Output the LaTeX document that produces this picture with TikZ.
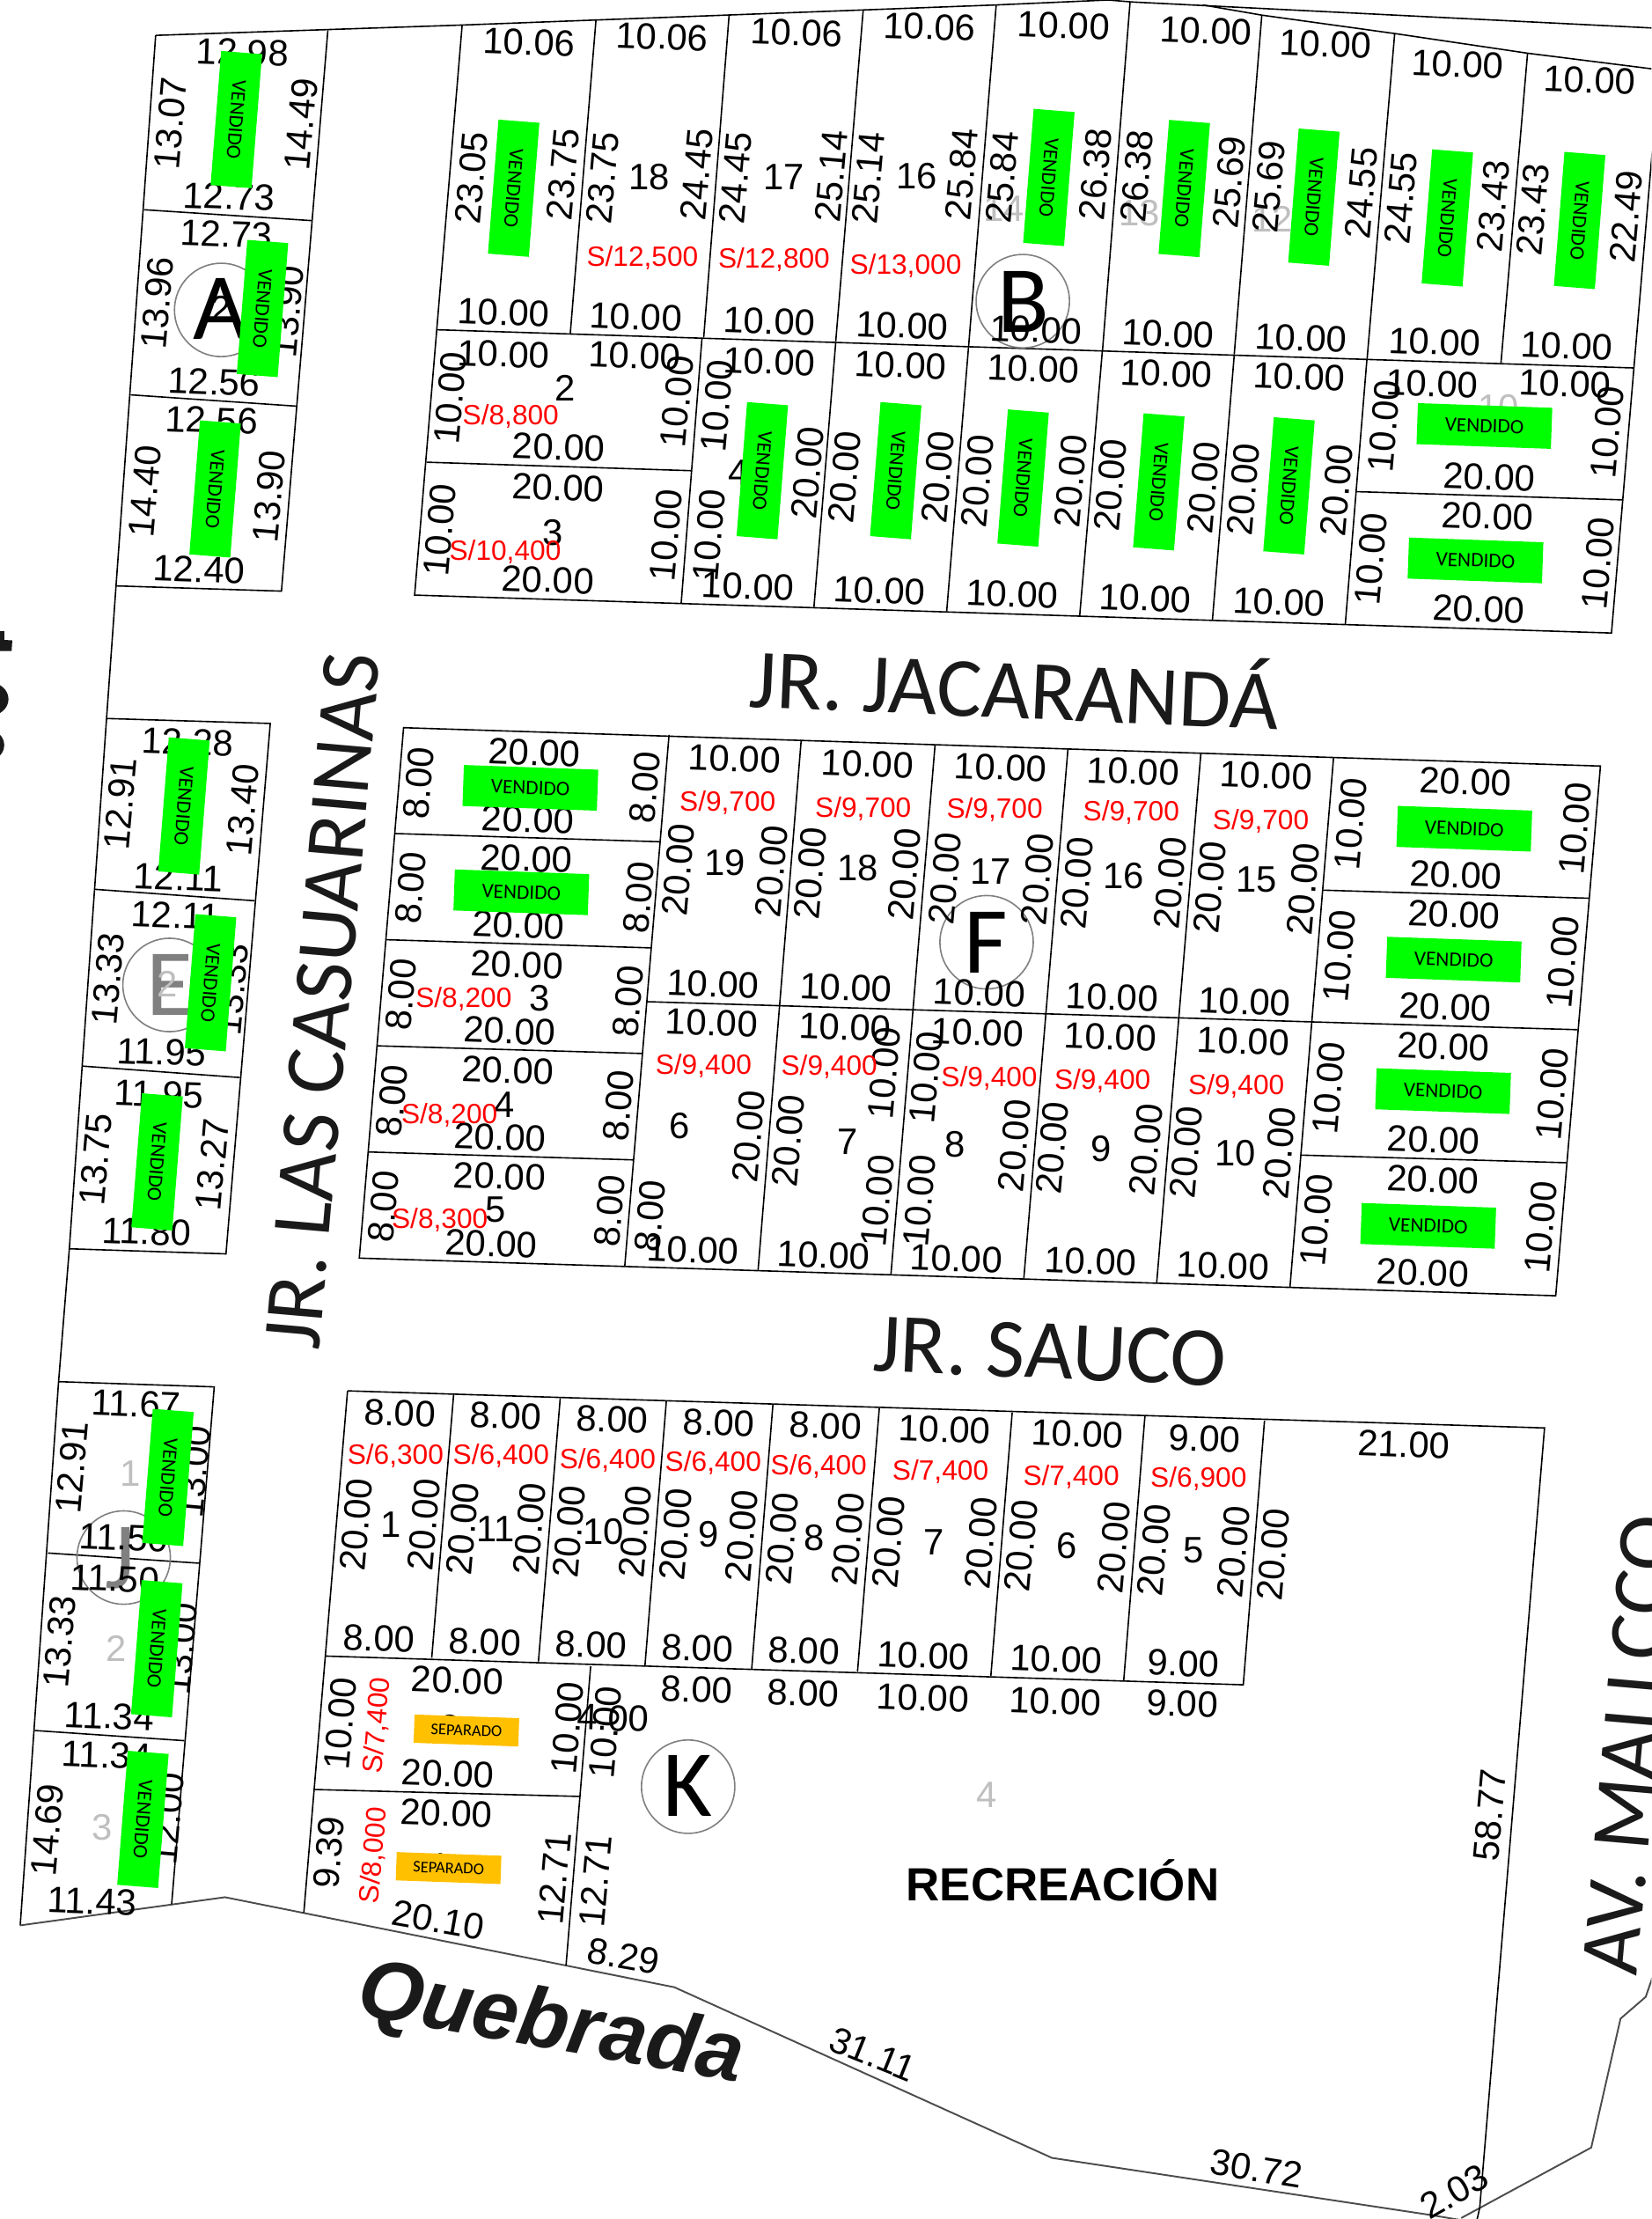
\documentclass[tikz,border=0pt]{standalone}
\usepackage{fontspec}
\setmainfont{Liberation Sans}
\newfontfamily\streetfont{Carlito}
\definecolor{heldcolor}{HTML}{FFC000}
\definecolor{inkcolor}{HTML}{1A1A1A}
\begin{document}
\begin{tikzpicture}[x=1pt,y=-1pt]

	\tikzstyle{lotline}=[draw=black,line width=1pt]
	\tikzstyle{edgeline}=[draw=black!70,line width=1.2pt]
	\tikzstyle{dim}=[inner sep=0pt,text=black,font=\fontsize{26}{26}\selectfont]
	\tikzstyle{hdim}=[dim,rotate=-2]
	\tikzstyle{vdim}=[dim,rotate=85]
	\tikzstyle{price}=[inner sep=0pt,text=red,font=\fontsize{19.7}{20}\selectfont]
	\tikzstyle{lotnum}=[inner sep=0pt,font=\fontsize{26}{26}\selectfont]
	\tikzstyle{faintnum}=[lotnum,text=black!25]
	\tikzstyle{soldv}=[fill=green,minimum width=95pt,minimum height=29pt,inner sep=0pt,rotate=-94.5,
		font=\streetfont\fontsize{14.5}{15}\selectfont]
	\tikzstyle{soldh}=[soldv,rotate=92.5]
	\tikzstyle{heldh}=[fill=heldcolor,minimum width=74pt,minimum height=20pt,inner sep=0pt,rotate=-2,
		font=\streetfont\fontsize{11.5}{12}\selectfont]
	\tikzstyle{blockring}=[circle,draw=black!50,line width=1pt,minimum size=66pt,inner sep=0pt]
	\tikzstyle{blockname}=[inner sep=0pt,font=\streetfont\fontsize{67}{67}\selectfont]
	\tikzstyle{street}=[inner sep=0pt,text=inkcolor,font=\streetfont\fontsize{59.6}{60}\selectfont]

	\useasboundingbox (0,0) rectangle (1167,1568);
	\clip (0,0) rectangle (1167,1568);

	\draw[lotline]	(110,25) -- (326.6,17.7) -- (704,3.5) -- (783,0) -- (800,1.4) -- (1172,20);
	\draw[lotline]	(850,3.5) -- (891.7,10.7) -- (985.6,23.7) -- (1079.5,37.6) -- (1167,48.6);
	\draw[lotline]	(110,25) -- (82,414) -- (75.3,507.7) -- (49,882.4) -- (41.4,976.3) -- (14.3,1360.5);
	\draw[edgeline]	(14.3,1360.5) -- (159,1340.6) -- (476.5,1404.2) -- (743.4,1524.8) -- (1010,1565) -- (1040,1570);
	\draw[edgeline]	(1032.6,1567.3) -- (1124.5,1517.5) -- (1145.2,1426.4) -- (1163,1411) -- (1172,1385);

	\draw[lotline]	(231.7,21.4) -- (198.9,417.7) -- (82,414);
	\draw[lotline]	(101.7,148.2) -- (220.4,155.9);
	\draw[lotline]	(92.3,279) -- (209.5,287);

	\draw[lotline]	(75.3,507.7) -- (191,511.2) -- (159.7,886) -- (49,882.4);
	\draw[lotline]	(67,628.4) -- (180,636.5);
	\draw[lotline]	(58,753.3) -- (169.5,761.4);

	\draw[lotline]	(41.4,976.3) -- (151.4,980) -- (121.3,1345.5);
	\draw[lotline]	(33.9,1097.4) -- (140.9,1104.6);
	\draw[lotline]	(24.5,1222.8) -- (130.3,1230);

	\draw[lotline]	(326.6,17.7) -- (293,420.5) -- (1138.8,447.3) -- (1172,55);
	\draw[lotline]	(308.9,233) -- (1154.6,260);
	\draw[lotline]	(301.4,326.6) -- (488.6,332.6);
	\draw[lotline]	(958.6,347.4) -- (1146.3,353.2);
	\foreach \xa/\ya/\xb/\yb in {421.2/13.7/403/235.8,515.3/10/497.3/238.4,610/7.2/590.6/241.2,704/3.5/684.5/244.6,
		798.6/1.4/779.1/247.8,891.7/10.7/872.2/250.4,985.6/23.7/966.1/253.6,1079.5/37.6/1060.7/256.5,
		496.1/238.7/481.4/426,590.6/242/575.2/429,684.5/244.6/669/432,779/248/763/435,872.2/251/856.8/438,966/253.6/950.7/441}
		\draw[lotline] (\xa,\ya) -- (\xb,\yb);

	\draw[lotline]	(285.2,514.2) -- (1131,541.3) -- (1099.4,915.6) -- (253.9,889) -- cycle;
	\draw[lotline]	(457,707.8) -- (927.4,722.1);
	\foreach \xa/\ya/\xb/\yb in {279/589/466.3/594.8,272.7/664/460/669.8,266.3/739/453.5/744.4,260.3/814/447.5/819.6,
		472.8/519.3/441.5/894.6,566.2/522.8/535.7/897.6,660.8/526.2/629.6/900.6,754.7/529.2/723.5/903.6,848.6/532.6/817.4/906.6,
		942.4/535.3/911.6/909.6,935/629/1122.7/634.7,927.4/722.1/1114.8/727.6,919.2/816.2/1106.9/821.6}
		\draw[lotline] (\xa,\ya) -- (\xb,\yb);

	\draw[lotline]	(245.6,982.8) -- (1091.5,1009) -- (1045.7,1560) -- (1043,1572);
	\draw[lotline]	(245.6,982.8) -- (214.7,1351.6);
	\draw[lotline]	(229.8,1170.2) -- (878.6,1190.5) -- (893.6,1003.8);
	\draw[lotline]	(417.4,1177.5) -- (400,1388.8);
	\draw[lotline]	(222.3,1264.5) -- (409.9,1269.4);
	\foreach \xa/\ya/\xb/\yb in {320.6/985.2/305.1/1171.4,395.9/988/380.5/1174,470.9/990/455.8/1176.7,546.2/992.5/531.2/1179.5,
		621.4/995/606/1181,715.3/998.2/700.2/1184.4,809.1/1000.6/794.1/1187.6}
		\draw[lotline] (\xa,\ya) -- (\xb,\yb);

	\fill[inkcolor] (0,446) rectangle (3,452) (0,452) -- (8.7,452.5) -- (8.2,460) -- (0,460) -- cycle;
	\fill[inkcolor] (-8,494) ellipse [x radius=14,y radius=12];
	\fill[inkcolor] (-9,526.5) ellipse [x radius=12,y radius=11];

	\node[blockring]	(ringA)	at (156.3,219)	{};
	\node[blockring]	(ringB)	at (722.8,212.8)	{};
	\node[blockring]	(ringE)	at (119.8,696)	{};
	\node[blockring]	(ringF)	at (697.2,665.8)	{};
	\node[blockring]	(ringJ)	at (87.4,1100.6)	{};
	\node[blockring]	(ringK)	at (486.3,1262.5)	{};
	\node[blockname]	(nameA)	at (156,218)	{A};
	\node[blockname]	(nameB)	at (723,213)	{B};
	\node[blockname,text=black!50]	(nameE)	at (120,696)	{E};
	\node[blockname]	(nameF)	at (697,666)	{F};
	\node[blockname,text=black!50]	(nameJ)	at (85,1101)	{J};
	\node[blockname]	(nameK)	at (486,1262)	{K};

	\foreach \x/\y/\t [count=\n] in {156/218/2,459/125/18,554/125/17,648/124.5/16,399.3/274/2,390.6/376.3/3,521.7/334/4,
		381.6/705.4/3,356.7/780.7/4,350.3/855/5,512.3/609.7/19,606.4/613.6/18,700.2/615.8/17,794.1/618.8/16,888/621.8/15,
		480.3/795.6/6,598.9/806.5/7,674.7/808.7/8,778/811.7/9,873/815/10,276.1/1077.5/1,350.3/1080.3/11,426.4/1082.4/10,
		501/1084.4/9,575.6/1086.4/8,660/1089.7/7,754/1092.5/6,843.7/1095.3/5,318/1221/2,311/1318.5/1}
		\node[lotnum]	(num\n)	at (\x,\y)	{\t};
	\foreach \x/\y/\t [count=\n] in {118/695/2,92/1041/1,82/1165/2,72/1291/3,697/1268/4,709.6/147.6/14,805/150.5/13,899.3/155/12,1058.8/288/10}
		\node[faintnum]	(faint\n)	at (\x,\y)	{\t};

	\foreach \x/\y/\t [count=\n] in {
		171.4/37/12.98,162/139/12.73,160/165.6/12.73,151.4/270/12.56,149.6/297/12.56,140.5/402.5/12.40,
		374/30/10.06,468/26/10.06,563/23/10.06,657/19/10.06,751.7/18/10.00,852/21.7/10.00,936.8/31.3/10.00,1030/45.5/10.00,1123.4/56.5/10.00,
		356/221/10.00,449.4/224/10.00,543.6/227/10.00,637.5/230/10.00,732/233/10.00,825.3/236/10.00,919.2/239/10.00,1013.8/241.7/10.00,1107/244.6/10.00,
		356/250.4/10.00,448.3/251.2/10.00,394.8/316/20.00,394.4/344.6/20.00,387.2/409.7/20.00,
		543.6/255.5/10.00,528.5/414.5/10.00,636.4/258/10.00,621.4/417.5/10.00,730.3/260.5/10.00,715.3/419.8/10.00,
		824/264/10.00,809.1/422.7/10.00,918/266.3/10.00,903.7/425.6/10.00,1012/271.3/10.00,1105.8/271.3/10.00,
		1052.5/337.3/20.00,1051.3/364.8/20.00,1045/430.5/20.00,
		132.6/524.3/12.28,126.2/620/12.11,124.3/646.9/12.11,114.1/743.5/11.95,112.3/773.3/11.95,103.6/870.5/11.80,
		377.8/531.8/20.00,373/579.3/20.00,372.2/606.7/20.00,366.5/653.7/20.00,365.4/681.7/20.00,360.1/728.6/20.00,359/756.3/20.00,353.3/803.6/20.00,353/831.3/20.00,347.3/878.8/20.00,
		519.1/536.2/10.00,504/695.3/10.00,613/539.8/10.00,598/698/10.00,707/542.2/10.00,692/701.7/10.00,800.9/545.2/10.00,785.9/704.7/10.00,894.7/548.2/10.00,879.7/707.7/10.00,
		1035.6/552.5/20.00,1028.8/618.2/20.00,1027.7/646.2/20.00,1021.3/711.6/20.00,1020.2/739.6/20.00,1013/805.6/20.00,1012.6/833.7/20.00,1005.5/899.4/20.00,
		502.9/722.7/10.00,489.7/883.3/10.00,597/726/10.00,582/887/10.00,690.8/729.7/10.00,675.8/889.4/10.00,784.7/732.7/10.00,770.5/891.5/10.00,878.6/735.7/10.00,864.3/894.5/10.00,
		96/992/11.67,87.4/1086.4/11.50,81/1115.6/11.50,77.2/1212.7/11.34,75.3/1240.3/11.34,65.2/1343.5/11.43,
		282.5/998.6/8.00,357.5/1000.6/8.00,432.8/1003/8.00,508.2/1005.5/8.00,583.5/1007.5/8.00,667.6/1010.3/10.00,761.4/1013.2/10.00,851.2/1016.8/9.00,992/1020.9/21.00,
		267.8/1157.7/8.00,342.8/1160/8.00,417.8/1162/8.00,492.7/1164.5/8.00,568/1166.6/8.00,652.5/1169.8/10.00,746.4/1172.6/10.00,836.2/1175.5/9.00,
		492.4/1194/8.00,567.7/1196.5/8.00,652.2/1199.8/10.00,745.7/1202.2/10.00,835.4/1203.8/9.00,
		433.2/1214/4.00,323.2/1187.6/20.00,316.4/1253.2/20.00,315.3/1281.5/20.00}
		\node[hdim]	(h\n)	at (\x,\y)	{\t};

	\foreach \x/\y/\t [count=\n] in {
		120.5/87/13.07,212.8/88/14.49,111/214/13.96,203/220/13.90,102.5/347/14.40,190/350.6/13.90,
		333.4/125.6/23.05,398/123/23.75,425.7/125.6/23.75,492.3/123.3/24.45,519.8/125.6/24.45,587.6/124.5/25.14,613.9/126/25.14,679.6/123/25.84,
		708.5/125.4/25.84,774.2/123/26.38,803.5/124.5/26.38,868.5/128.8/25.69,896.6/131.7/25.69,962/136.6/24.55,990/139.8/24.55,1055/145.6/23.43,1083.2/148.2/23.43,1149/152.9/22.49,
		318.3/281.2/10.00,478.4/284/10.00,310.8/374.6/10.00,470.9/378.3/10.00,506.7/287/10.00,501/378.3/10.00,570.7/334/20.00,
		597/337/20.00,662.7/337/20.00,690.8/340/20.00,756.6/340/20.00,784.7/343/20.00,850.4/344.5/20.00,878.6/346/20.00,944.3/346.5/20.00,
		978/301/10.00,1135.8/305.4/10.00,968.7/395.2/10.00,1129.4/398/10.00,
		84.8/568/12.91,171.4/572.5/13.40,76.5/691.5/13.33,163.9/698.9/13.33,67.8/819.4/13.75,150/822.9/13.27,
		295.7/553.2/8.00,455.8/556.2/8.00,290/627.5/8.00,451.3/634.4/8.00,283.3/702.8/8.00,443.8/707.8/8.00,276.9/777.7/8.00,437/781.3/8.00,271.2/852.7/8.00,430.6/855.6/8.00,459.6/859.5/8.00,
		479.2/614.7/20.00,545.1/615.6/20.00,572.6/617/20.00,639.4/618/20.00,667.6/620.6/20.00,732.9/621.2/20.00,761/624.2/20.00,826.8/624.2/20.00,855/627.2/20.00,920.7/628.1/20.00,
		954.5/582/10.00,1113.3/585.6/10.00,946.2/675.4/10.00,1104.6/680/10.00,938.7/768.9/10.00,1097.1/773.4/10.00,930/862.3/10.00,1088.9/867.4/10.00,
		529.3/803/20.00,556.8/806/20.00,625.1/758.3/10.00,620.2/848.7/10.00,654.4/761.3/10.00,649.5/848.7/10.00,717.1/809.6/20.00,743.4/811/20.00,809.9/812.6/20.00,838.4/814/20.00,904.1/815/20.00,
		50.9/1037/12.91,137.5/1040/13.00,42.2/1160/13.33,128/1165/13.00,33.2/1292.9/14.69,118.7/1285/12.00,
		251.6/1077.5/20.00,299.5/1077.5/20.00,327/1080.3/20.00,374/1080.3/20.00,402.3/1082.4/20.00,449/1082.4/20.00,477.7/1084.4/20.00,524.4/1085.2/20.00,553/1087.2/20.00,
		599.6/1087.6/20.00,627.8/1089.7/20.00,693.5/1090.5/20.00,721.6/1092.5/20.00,787.4/1093.3/20.00,815.5/1095.3/20.00,871.8/1096.5/20.00,900/1098.6/20.00,
		427.6/1224/10.00,401.2/1220.8/10.00,240.3/1218/10.00,232.4/1309/9.39,391.8/1327.3/12.71,420.8/1329.3/12.71,1053/1282.8/58.77}
		\node[vdim]	(v\n)	at (\x,\y)	{\t};

	\node[dim,rotate=-10]	(slopeA)	at (309.7,1356.8)	{20.10};
	\node[dim,rotate=-10]	(slopeB)	at (440.7,1382)	{8.29};
	\node[dim,rotate=-22]	(slopeC)	at (616.9,1451.5)	{31.11};
	\node[dim,rotate=-9]	(slopeD)	at (888,1532.5)	{30.72};
	\node[dim,rotate=30]	(slopeE)	at (1027.7,1548.7)	{2.03};

	\foreach \x/\y/\t [count=\n] in {454/182/{12,500},547/183.6/{12,800},640/187.6/{13,000},360.9/294/{8,800},357/389.7/{10,400},
		327.7/705.8/{8,200},317.6/788.1/{8,200},310.8/861.9/{8,300},514.2/567.2/{9,700},610/571.4/{9,700},702.9/572/{9,700},799.4/573.9/{9,700},891/580.5/{9,700},
		497.2/753/{9,400},586/754/{9,400},699.1/762.2/{9,400},779.1/763.7/{9,400},873.7/767.4/{9,400},
		279.5/1028.5/{6,300},354.1/1028.5/{6,400},429.4/1031.8/{6,400},504/1033.8/{6,400},578.6/1036.2/{6,400},664.6/1039.9/{7,400},757/1044/{7,400},847/1045/{6,900}}
		\node[price]	(price\n)	at (\x,\y)	{S/\t};
	\node[price,rotate=85]	(priceA)	at (266.7,1219.2)	{S/7,400};
	\node[price,rotate=85]	(priceB)	at (264.4,1311)	{S/8,000};

	\foreach \x/\y [count=\n] in {167/84.5,185.5/218,152/345.5,363/133,741.2/125.4,836.9/133.2,928.5/139.3,1022.8/154,1116.3/155.8,
		538.7/332.6,633/332.6,723/337.8,818.9/340.5,910.9/343.3,130/569.5,148.8/694.4,111/821,118.7/1044,110.8/1165,101/1285.6}
		\node[soldv]	(soldv\n)	at (\x,\y)	{VENDIDO};
	\foreach \x/\y [count=\n] in {1049/301,1042.7/396,374.8/556.7,368.4/630.5,1034.8/585.6,1027.3/678.1,1019.8/771,1009.3/866.2}
		\node[soldh]	(soldh\n)	at (\x,\y)	{VENDIDO};
	\node[heldh]	(heldA)	at (329.6,1222.8)	{SEPARADO};
	\node[heldh]	(heldB)	at (317,1320)	{SEPARADO};

	\node[street,rotate=-2.5]	(jacaranda)	at (717,483)	{JR. JACARANDÁ};
	\node[street,rotate=85]	(casuarinas)	at (228,707)	{JR. LAS CASUARINAS};
	\node[street,rotate=-2.5]	(sauco)	at (742,955)	{JR. SAUCO};
	\node[street,rotate=85]	(mallcco)	at (1152,1233)	{AV. MALLCCO};
	\node[inner sep=0pt,text=inkcolor,rotate=-10,font=\fontsize{59}{59}\selectfont\bfseries\itshape]	(quebrada)	at (389,1432)	{Quebrada};
	\node[inner sep=0pt,font=\fontsize{32.9}{33}\selectfont\bfseries]	(recreacion)	at (751,1329)	{RECREACIÓN};

\end{tikzpicture}
\end{document}
